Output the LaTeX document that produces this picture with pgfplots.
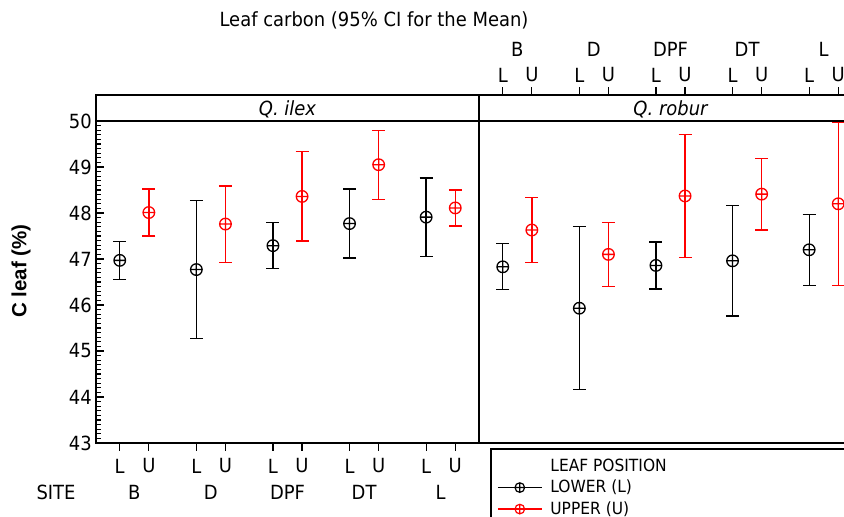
\documentclass[border=0pt]{standalone}
\usepackage{fontspec}
\setmainfont{DejaVu Sans}[FakeStretch=0.92]
\newfontfamily\labelfont{Liberation Sans}
\usepackage{pgfplots}
\usepackage{pgfplotstable}
\pgfplotsset{compat=1.18}
\usetikzlibrary{plotmarks}

\newcommand\fs{\fontsize{19.5bp}{22bp}\selectfont}
\newcommand\fl{\fontsize{16.8bp}{20bp}\selectfont}

% x = group position -/+ 0.19, y = mean, e = half width of 95% CI
\pgfplotstableread{
x y e
-0.19 46.97 0.41
0.81 46.77 1.50
1.81 47.29 0.50
2.81 47.77 0.75
3.81 47.91 0.85
}\ilexL
\pgfplotstableread{
x y e
0.19 48.01 0.51
1.19 47.76 0.83
2.19 48.36 0.97
3.19 49.05 0.75
4.19 48.11 0.39
}\ilexU
\pgfplotstableread{
x y e
-0.19 46.83 0.50
0.81 45.93 1.77
1.81 46.86 0.51
2.81 46.96 1.20
3.81 47.20 0.77
}\roburL
\pgfplotstableread{
x y e
0.19 47.63 0.71
1.19 47.10 0.70
2.19 48.37 1.34
3.19 48.41 0.78
4.19 48.20 1.77
}\roburU

\pgfplotsset{
  panel/.style={
    scale only axis, width=383bp, height=348bp,
    xmin=-0.5, xmax=4.5, ymin=43, ymax=50.565,
    clip=false,
    axis line style={line width=1.5bp},
    every tick/.style={black, line width=1.2bp},
    major tick length=8bp, minor tick length=5bp,
    xtick={-0.19,0.19,0.81,1.19,1.81,2.19,2.81,3.19,3.81,4.19},
    xticklabels={},
    xtick align=outside,
    tick label style={font=\fs},
  },
  ci/.style={only marks, mark=oplus, mark size=5.8bp, line width=1.3bp, color=#1,
    mark options={solid},
    error bars/.cd, y dir=both, y explicit,
    error bar style={line width=1.3bp, color=#1},
    error mark options={rotate=90, mark size=6.5bp, line width=1.3bp, color=#1},
    /pgfplots/.cd},
}

\begin{document}
\begin{tikzpicture}
\path[use as bounding box] (0,0) rectangle (844bp,517bp);
\clip (0,0) rectangle (844bp,517bp);

\node[anchor=base, font=\fs] at (374bp,490bp) {Leaf carbon (95\% CI for the Mean)};
\node[rotate=90, font=\labelfont\bfseries\fontsize{20.5bp}{24bp}\selectfont] at (21bp,246bp) {C leaf (\%)};
\node[font=\fs] at (56bp,25bp) {SITE};

% Q. ilex
\begin{axis}[panel, at={(96bp,74bp)}, anchor=south west,
  xtick pos=left,
  ytick={43,...,50}, ytick pos=left, ytick align=inside,
  minor ytick={43.1,43.2,...,49.95},
  /pgf/number format/assume math mode=true,
  yticklabel style={inner sep=0pt, xshift=-4bp},
]
\addplot[ci=black] table[x=x, y=y, y error=e] {\ilexL};
\addplot[ci=red] table[x=x, y=y, y error=e] {\ilexU};
\draw[line width=1.5bp] (axis cs:-0.5,50) -- (axis cs:4.5,50);
\node[anchor=base, font=\fs\itshape] at (axis cs:2,50.13) {Q. ilex};
\node[font=\fs] at (axis cs:-0.19,42.5) {L};
\node[font=\fs] at (axis cs:0.19,42.5) {U};
\node[font=\fs] at (axis cs:0.81,42.5) {L};
\node[font=\fs] at (axis cs:1.19,42.5) {U};
\node[font=\fs] at (axis cs:1.81,42.5) {L};
\node[font=\fs] at (axis cs:2.19,42.5) {U};
\node[font=\fs] at (axis cs:2.81,42.5) {L};
\node[font=\fs] at (axis cs:3.19,42.5) {U};
\node[font=\fs] at (axis cs:3.81,42.5) {L};
\node[font=\fs] at (axis cs:4.19,42.5) {U};
\node[font=\fs] at (axis cs:0,41.935) {B};
\node[font=\fs] at (axis cs:1,41.935) {D};
\node[font=\fs] at (axis cs:2,41.935) {DPF};
\node[font=\fs] at (axis cs:3,41.935) {DT};
\node[font=\fs] at (axis cs:4,41.935) {L};
\end{axis}

% Q. robur
\begin{axis}[panel, at={(479bp,74bp)}, anchor=south west,
  xtick pos=right, ytick=\empty,
  legend style={at={(axis description cs:0.047,-0.037)}, anchor=north west,
    draw=none, fill=none, font=\fl, inner sep=0pt, column sep=7bp, row sep=1.5bp,
    cells={anchor=west}, nodes={inner sep=1bp, text height=14bp, text depth=4bp}},
  legend image code/.code={\draw[#1, mark repeat=2, mark phase=2]
    plot coordinates {(0bp,0bp) (22bp,0bp) (44bp,0bp)};},
]
\addplot[forget plot, ci=black] table[x=x, y=y, y error=e] {\roburL};
\addplot[forget plot, ci=red] table[x=x, y=y, y error=e] {\roburU};
\draw[line width=1.5bp] (axis cs:-0.5,50) -- (axis cs:4.5,50);
\node[anchor=base, font=\fs\itshape] at (axis cs:2,50.13) {Q. robur};
\node[font=\fs] at (axis cs:-0.19,51.0) {L};
\node[font=\fs] at (axis cs:0.19,51.0) {U};
\node[font=\fs] at (axis cs:0.81,51.0) {L};
\node[font=\fs] at (axis cs:1.19,51.0) {U};
\node[font=\fs] at (axis cs:1.81,51.0) {L};
\node[font=\fs] at (axis cs:2.19,51.0) {U};
\node[font=\fs] at (axis cs:2.81,51.0) {L};
\node[font=\fs] at (axis cs:3.19,51.0) {U};
\node[font=\fs] at (axis cs:3.81,51.0) {L};
\node[font=\fs] at (axis cs:4.19,51.0) {U};
\node[font=\fs] at (axis cs:0,51.565) {B};
\node[font=\fs] at (axis cs:1,51.565) {D};
\node[font=\fs] at (axis cs:2,51.565) {DPF};
\node[font=\fs] at (axis cs:3,51.565) {DT};
\node[font=\fs] at (axis cs:4,51.565) {L};
\addlegendimage{empty legend}
\addlegendentry{LEAF POSITION}
\addlegendimage{black, line width=1.2bp, mark=oplus, mark size=4.8bp}
\addlegendentry{LOWER (L)}
\addlegendimage{red, line width=1.2bp, mark=oplus, mark size=4.8bp}
\addlegendentry{UPPER (U)}
\end{axis}

\draw[line width=1.2bp] (491bp,68bp) rectangle (900bp,-20bp);
\end{tikzpicture}
\end{document}
